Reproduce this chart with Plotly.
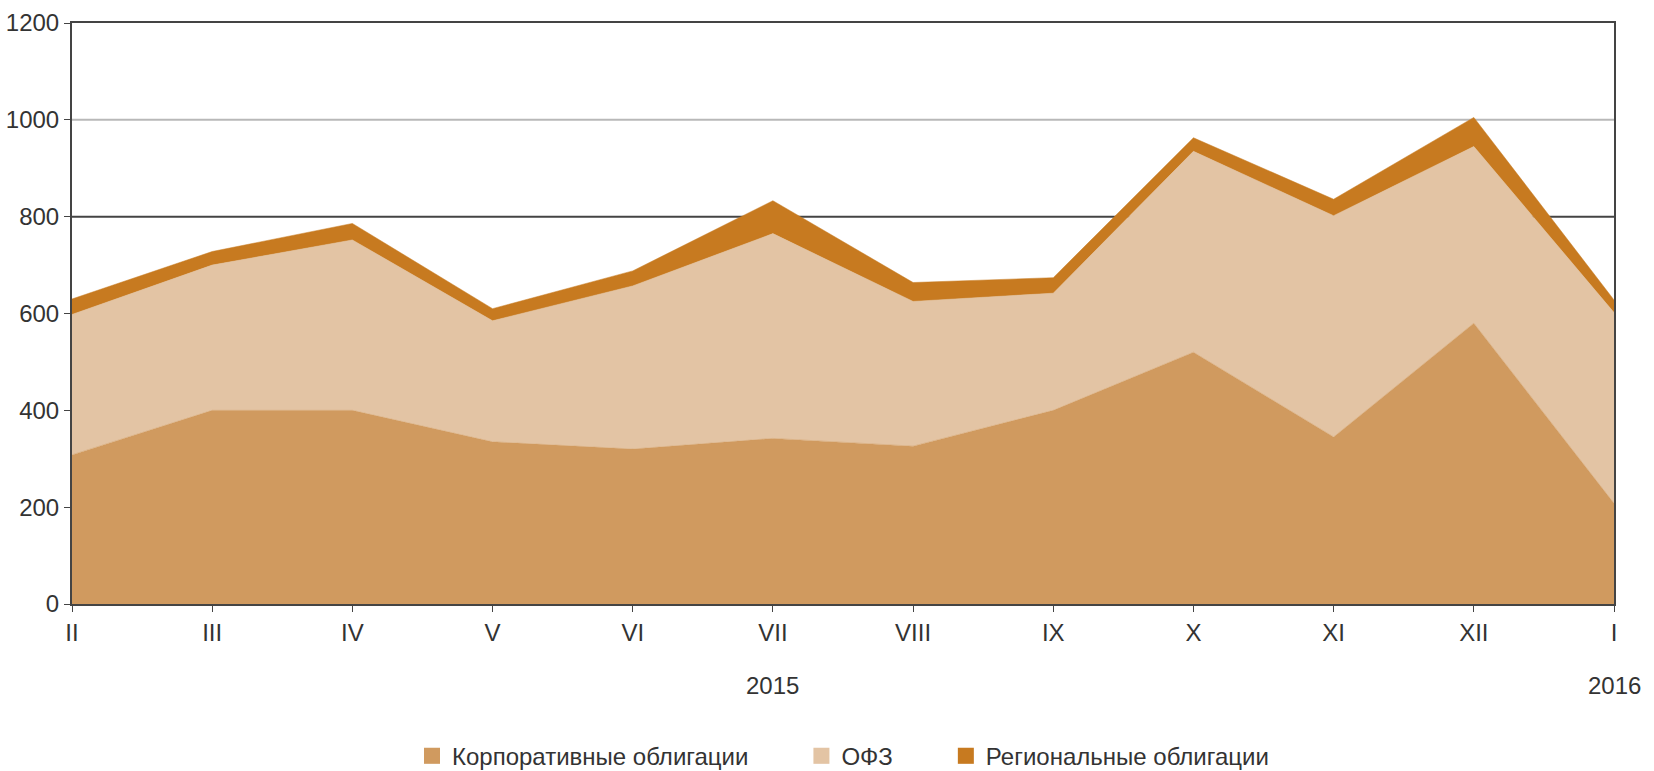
import plotly.graph_objects as go

months = ["II", "III", "IV", "V", "VI", "VII", "VIII", "IX", "X", "XI", "XII", "I"]
corporate = [308, 400, 400, 335, 320, 342, 326, 400, 520, 345, 580, 208]
ofz = [290, 300, 352, 250, 337, 423, 299, 242, 415, 457, 365, 394]
regional = [32, 28, 34, 25, 31, 68, 39, 32, 28, 34, 60, 26]
year_labels = [("2015", "VII"), ("2016", "I")]
y_ticks = [0, 200, 400, 600, 800, 1000, 1200]
names = ["Корпоративные облигации", "ОФЗ", "Региональные облигации"]
colors = ["#D09A5F", "#E3C4A4", "#C77A20"]

FONT = "Liberation Sans Narrow, Liberation Sans, Arial, sans-serif"
TXT = "#333333"

x = list(range(len(months)))
fig = go.Figure()
for vals, name, col in zip([corporate, ofz, regional], names, colors):
    fig.add_trace(go.Scatter(
        x=x, y=vals, name=name, stackgroup="one", mode="lines",
        line=dict(width=0.5, color=col), fillcolor=col, showlegend=False,
        hoverinfo="skip"))
# legend entries (padded with spaces for the wider gaps of the original legend)
for i, (name, col) in enumerate(zip(names, colors)):
    pad = "\u2003\u2003" if i < len(names) - 1 else ""
    fig.add_trace(go.Scatter(
        x=[None], y=[None], mode="markers", name=name + pad,
        marker=dict(symbol="square", size=20, color=col), showlegend=True))

# grid lines (drawn below the filled areas)
for yv, gc in [(800, "#444444"), (1000, "#b8b8b8")]:
    fig.add_shape(type="line", xref="paper", x0=0, x1=1, yref="y", y0=yv, y1=yv,
                  line=dict(color=gc, width=2), layer="below")

for txt, m in year_labels:
    fig.add_annotation(x=months.index(m), xref="x", y=-0.141, yref="paper",
                       text=txt, showarrow=False,
                       font=dict(family=FONT, size=24, color=TXT),
                       xanchor="center", yanchor="middle")

fig.update_layout(
    width=1654, height=771,
    margin=dict(l=72, r=40, t=23, b=167, autoexpand=False),
    paper_bgcolor="white", plot_bgcolor="white",
    font=dict(family=FONT, size=24, color=TXT),
    showlegend=True,
    legend=dict(orientation="h", x=0.5, xanchor="center", y=-0.262, yanchor="middle",
                traceorder="normal",
                font=dict(family=FONT, size=24, color=TXT),
                itemwidth=30, tracegroupgap=0),
    xaxis=dict(range=[0, len(months) - 1], tickmode="array", tickvals=x, ticktext=months,
               showgrid=False, zeroline=False, showline=True, linecolor="#444",
               linewidth=2, mirror=True, ticks="outside", ticklen=6, tickcolor="#444",
               automargin=False,
               tickfont=dict(family=FONT, size=24, color=TXT)),
    yaxis=dict(range=[0, 1200], tickmode="array", tickvals=y_ticks,
               showgrid=False, zeroline=False,
               showline=True, linecolor="#444", linewidth=2, mirror=True,
               ticks="outside", ticklen=6, tickcolor="#444", automargin=False,
               tickfont=dict(family=FONT, size=24, color=TXT)),
)

fig.write_html("out.html", config={"displayModeBar": False})
with open("out.html", encoding="utf-8") as f:
    html = f.read()
html = html.replace("<head>", "<head><style>html,body{margin:0;padding:0;overflow:hidden}</style>", 1)
with open("out.html", "w", encoding="utf-8") as f:
    f.write(html)
